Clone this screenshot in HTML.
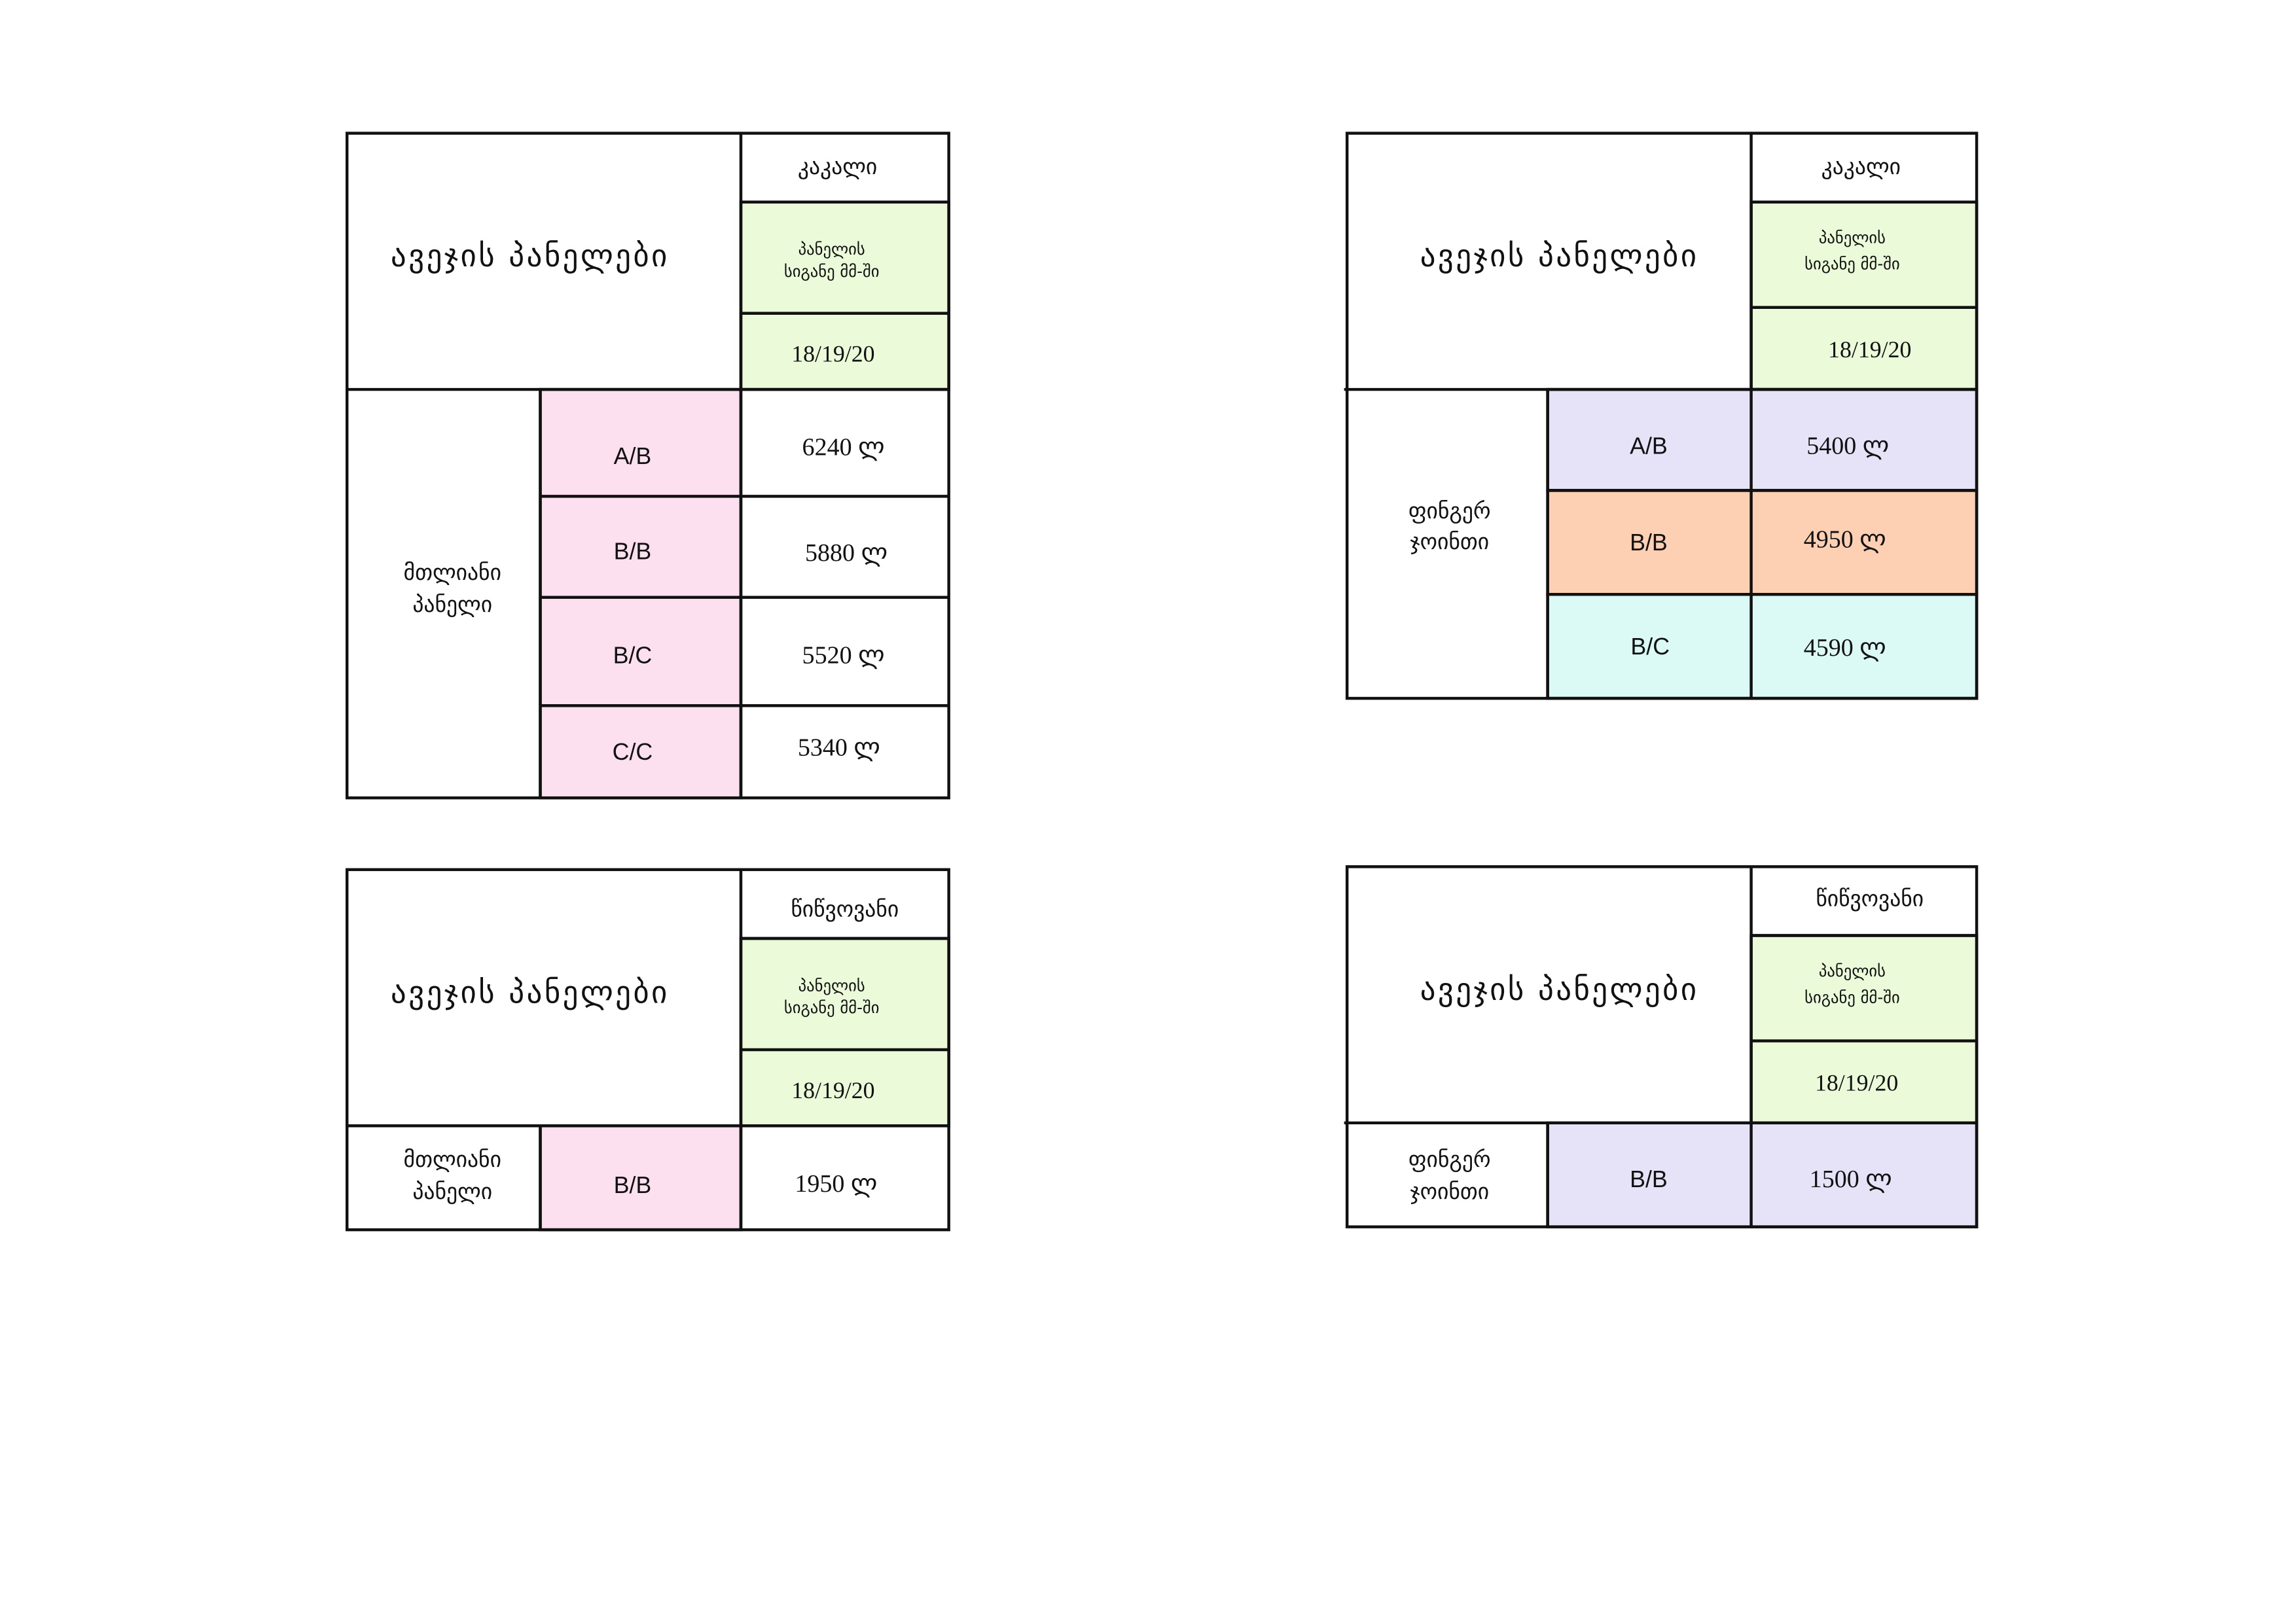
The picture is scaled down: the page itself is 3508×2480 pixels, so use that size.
<!DOCTYPE html>
<html><head><meta charset="utf-8"><style>
html,body{margin:0;padding:0;background:#fff;}
svg{display:block;}
.g{font-family:"DejaVu Sans","Liberation Sans",sans-serif;fill:#111;}
.n{font-family:"Liberation Serif",serif;fill:#111;}
.s{font-family:"Liberation Sans",sans-serif;fill:#111;}
</style></head><body>
<svg width="3508" height="2480" viewBox="0 0 1568.1 1108.6" preserveAspectRatio="none" xmlns="http://www.w3.org/2000/svg">
<rect x="0" y="0" width="1568.1" height="1108.6" fill="#fff"/>
<g stroke="#111" stroke-width="2">
<rect x="506" y="138" width="142" height="128" fill="#ebfbd9"/>
<rect x="369" y="266" width="137" height="279" fill="#fde0ef"/>
<rect x="237" y="91" width="411" height="454" fill="none"/>
<line x1="506" y1="91" x2="506" y2="545"/>
<line x1="506" y1="138" x2="648" y2="138"/>
<line x1="506" y1="214" x2="648" y2="214"/>
<line x1="237" y1="266" x2="648" y2="266"/>
<line x1="369" y1="266" x2="369" y2="545"/>
<line x1="369" y1="339" x2="648" y2="339"/>
<line x1="369" y1="408" x2="648" y2="408"/>
<line x1="369" y1="482" x2="648" y2="482"/>
<rect x="1196" y="138" width="154" height="128" fill="#ebfbd9"/>
<rect x="1057" y="266" width="293" height="69" fill="#e6e2f8"/>
<rect x="1057" y="335" width="293" height="71" fill="#fdd0b4"/>
<rect x="1057" y="406" width="293" height="71" fill="#dcfaf5"/>
<rect x="920" y="91" width="430" height="386" fill="none"/>
<line x1="1196" y1="91" x2="1196" y2="477"/>
<line x1="1196" y1="138" x2="1350" y2="138"/>
<line x1="1196" y1="210" x2="1350" y2="210"/>
<line x1="918" y1="266" x2="1350" y2="266"/>
<line x1="1057" y1="266" x2="1057" y2="477"/>
<line x1="1057" y1="335" x2="1350" y2="335"/>
<line x1="1057" y1="406" x2="1350" y2="406"/>
<rect x="506" y="641" width="142" height="128" fill="#ebfbd9"/>
<rect x="369" y="769" width="137" height="71" fill="#fde0ef"/>
<rect x="237" y="594" width="411" height="246" fill="none"/>
<line x1="506" y1="594" x2="506" y2="840"/>
<line x1="506" y1="641" x2="648" y2="641"/>
<line x1="506" y1="717" x2="648" y2="717"/>
<line x1="237" y1="769" x2="648" y2="769"/>
<line x1="369" y1="769" x2="369" y2="840"/>
<rect x="1196" y="639" width="154" height="128" fill="#ebfbd9"/>
<rect x="1057" y="767" width="293" height="71" fill="#e6e2f8"/>
<rect x="920" y="592" width="430" height="246" fill="none"/>
<line x1="1196" y1="592" x2="1196" y2="838"/>
<line x1="1196" y1="639" x2="1350" y2="639"/>
<line x1="1196" y1="711" x2="1350" y2="711"/>
<line x1="918" y1="767" x2="1350" y2="767"/>
<line x1="1057" y1="767" x2="1057" y2="838"/>
</g>
<g text-anchor="middle">
<text class="g" x="362" y="182" font-size="21" letter-spacing="1.5">ავეჯის  პანელები</text>
<text class="g" x="572" y="119" font-size="15">კაკალი</text>
<text class="g" x="568" y="174" font-size="11">პანელის</text>
<text class="g" x="568" y="189" font-size="11">სიგანე მმ-ში</text>
<text class="n" x="569" y="247" font-size="16">18/19/20</text>
<text class="s" x="432" y="317" font-size="16">A/B</text>
<text class="s" x="432" y="382" font-size="16">B/B</text>
<text class="s" x="432" y="453" font-size="16">B/C</text>
<text class="s" x="432" y="519" font-size="16">C/C</text>
<text class="n" x="576" y="311" font-size="17">6240  ლ</text>
<text class="n" x="578" y="383" font-size="17">5880  ლ</text>
<text class="n" x="576" y="453" font-size="17">5520  ლ</text>
<text class="n" x="573" y="516" font-size="17">5340  ლ</text>
<text class="g" x="309" y="396" font-size="15">მთლიანი</text>
<text class="g" x="309" y="418" font-size="15">პანელი</text>
<text class="g" x="1065" y="182" font-size="21" letter-spacing="1.5">ავეჯის  პანელები</text>
<text class="g" x="1271" y="119" font-size="15">კაკალი</text>
<text class="g" x="1265" y="166" font-size="11">პანელის</text>
<text class="g" x="1265" y="184" font-size="11">სიგანე მმ-ში</text>
<text class="n" x="1277" y="244" font-size="16">18/19/20</text>
<text class="s" x="1126" y="310" font-size="16">A/B</text>
<text class="s" x="1126" y="376" font-size="16">B/B</text>
<text class="s" x="1127" y="447" font-size="16">B/C</text>
<text class="n" x="1262" y="310" font-size="17">5400  ლ</text>
<text class="n" x="1260" y="374" font-size="17">4950  ლ</text>
<text class="n" x="1260" y="448" font-size="17">4590  ლ</text>
<text class="g" x="990" y="354" font-size="15">ფინგერ</text>
<text class="g" x="990" y="375" font-size="15">ჯოინთი</text>
<text class="g" x="362" y="685" font-size="21" letter-spacing="1.5">ავეჯის  პანელები</text>
<text class="g" x="577" y="626" font-size="15">წიწვოვანი</text>
<text class="g" x="568" y="677" font-size="11">პანელის</text>
<text class="g" x="568" y="692" font-size="11">სიგანე მმ-ში</text>
<text class="n" x="569" y="750" font-size="16">18/19/20</text>
<text class="s" x="432" y="815" font-size="16">B/B</text>
<text class="n" x="571" y="814" font-size="17">1950  ლ</text>
<text class="g" x="309" y="797" font-size="15">მთლიანი</text>
<text class="g" x="309" y="819" font-size="15">პანელი</text>
<text class="g" x="1065" y="683" font-size="21" letter-spacing="1.5">ავეჯის  პანელები</text>
<text class="g" x="1277" y="619" font-size="15">წიწვოვანი</text>
<text class="g" x="1265" y="667" font-size="11">პანელის</text>
<text class="g" x="1265" y="685" font-size="11">სიგანე მმ-ში</text>
<text class="n" x="1268" y="745" font-size="16">18/19/20</text>
<text class="s" x="1126" y="811" font-size="16">B/B</text>
<text class="n" x="1264" y="811" font-size="17">1500  ლ</text>
<text class="g" x="990" y="797" font-size="15">ფინგერ</text>
<text class="g" x="990" y="819" font-size="15">ჯოინთი</text>
</g>
</svg>
</body></html>
